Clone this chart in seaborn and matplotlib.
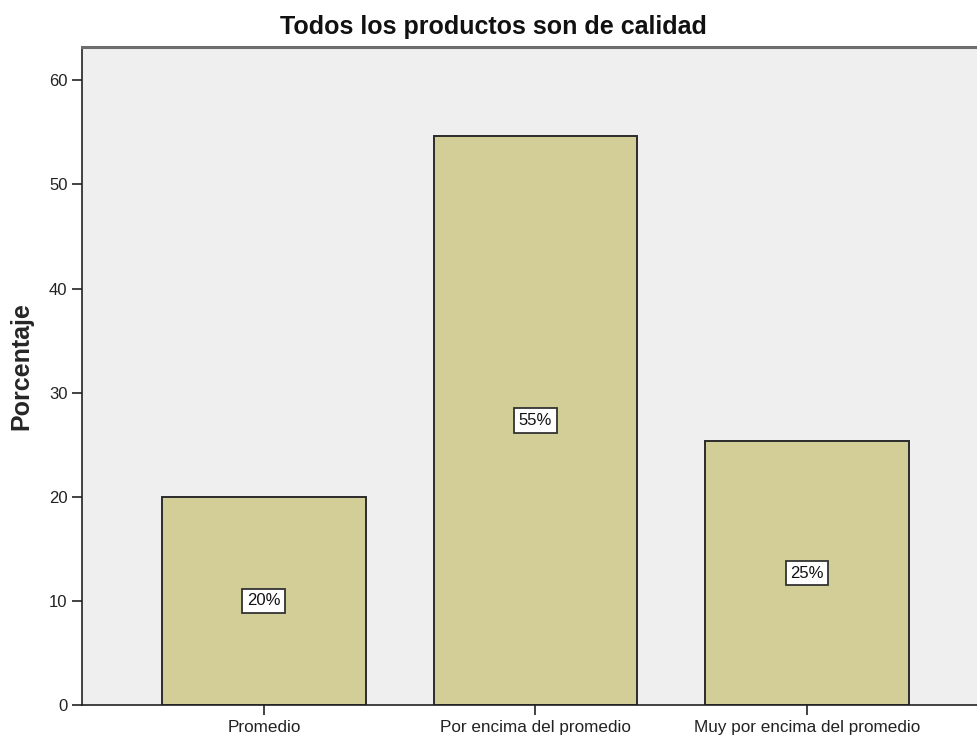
import matplotlib
matplotlib.use("Agg")
import matplotlib.pyplot as plt
import seaborn as sns
import pandas as pd

categories = ["Promedio", "Por encima del promedio", "Muy por encima del promedio"]
percentages = [20.0, 54.67, 25.33]
bar_labels = ["20%", "55%", "25%"]
yticks = [0, 10, 20, 30, 40, 50, 60]

df = pd.DataFrame({"cat": categories, "pct": percentages})

sns.set_theme(style="white")
plt.rcParams["font.family"] = ["Liberation Sans", "DejaVu Sans"]

fig = plt.figure(figsize=(9.78, 7.38), dpi=100)
ax = fig.add_axes([82 / 978, 33 / 738, 1 - 82 / 978, (705 - 47) / 738])
ax.set_facecolor("#EFEFEF")

sns.barplot(data=df, x="cat", y="pct", ax=ax, color="#D3CE97", saturation=1,
            width=0.75, edgecolor="#2b2b2b", linewidth=1.4, errorbar=None)

for i, (v, lab) in enumerate(zip(percentages, bar_labels)):
    ax.text(i, v / 2, lab, ha="center", va="center", fontsize=12, color="#111111",
            bbox=dict(boxstyle="square,pad=0.28", fc="white", ec="#333333", lw=1.3))

ax.set_xlim(-0.67, 2.63)
ax.set_ylim(0, 63.2)
ax.set_yticks(yticks)
ax.set_yticklabels([str(t) for t in yticks], fontsize=12, color="#222222")
ax.tick_params(axis="y", direction="out", length=7.5, width=1.2, color="#222222",
               left=True, pad=3)
ax.tick_params(axis="x", direction="out", length=7.5, width=1.2, color="#222222",
               bottom=True, pad=3.5, labelsize=12.3, labelcolor="#222222")
ax.set_xlabel("")
ax.set_ylabel("Porcentaje", fontsize=18, fontweight="bold")
ax.yaxis.set_label_coords(-0.0545, 0.515)

for s in ["left", "bottom"]:
    ax.spines[s].set_color("#222222")
    ax.spines[s].set_linewidth(1.2)
ax.spines["top"].set_color("#6e6e6e")
ax.spines["top"].set_linewidth(2.2)
ax.spines["right"].set_visible(False)

fig.text(493 / 978, 1 - 27 / 738, "Todos los productos son de calidad",
         ha="center", va="center", fontsize=18, fontweight="bold", color="#111111")

fig.savefig("out.png", dpi=100)
